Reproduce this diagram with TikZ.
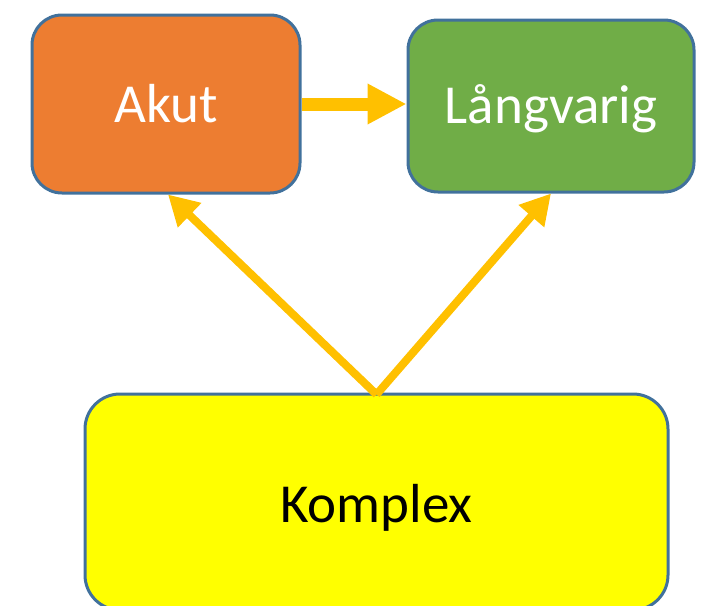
\documentclass[tikz,border=0pt]{standalone}
\usepackage{fontspec}
\setmainfont{Carlito}
\usetikzlibrary{calc, positioning, arrows.meta}

\definecolor{boxline}{HTML}{41719C}
\definecolor{akutfill}{HTML}{ED7D31}
\definecolor{langfill}{HTML}{70AD47}
\definecolor{komplexfill}{HTML}{FFFF00}
\definecolor{arrowgold}{HTML}{FFC000}

% text with its baseline at a given depth below the box centre
\newcommand{\boxtext}[2]{\raisebox{-#1pt}[0pt][0pt]{#2}}

\tikzset{
  statebox/.style={draw=boxline, line width=3, rounded corners=30, inner sep=0,
    font=\fontsize{55}{62}\selectfont},
  bigarrow/.style={draw=arrowgold, line width=13, -{Triangle[length=39, width=38]}},
  thinarrow/.style={draw=arrowgold, line width=8, -{Triangle[length=30, width=32]}},
}

\begin{document}
\begin{tikzpicture}[x=1pt, y=-1pt]

  \clip (0, 0) rectangle (706, 605);

  % the three boxes
  \node[statebox, fill=akutfill, text=white, minimum width=268, minimum height=178]
    (akut) at (166, 104) {\boxtext{18}{Akut}};
  \node[statebox, fill=langfill, text=white, minimum width=286, minimum height=172]
    (lang) at (551, 106) {\boxtext{17}{Långvarig}};
  \node[statebox, fill=komplexfill, text=black, minimum width=583, minimum height=216,
    rounded corners=35] (komplex) at (376.5, 502) {\boxtext{20}{Komplex}};

  % arrows
  \draw[bigarrow] (akut.east) -- (akut.east -| lang.west);
  \draw[thinarrow] ($(komplex.north) + (0, 2)$) -- ($(akut.south) + (2, 0)$);
  \draw[thinarrow] ($(komplex.north) + (0, 2)$) -- (lang.south);

\end{tikzpicture}
\end{document}
